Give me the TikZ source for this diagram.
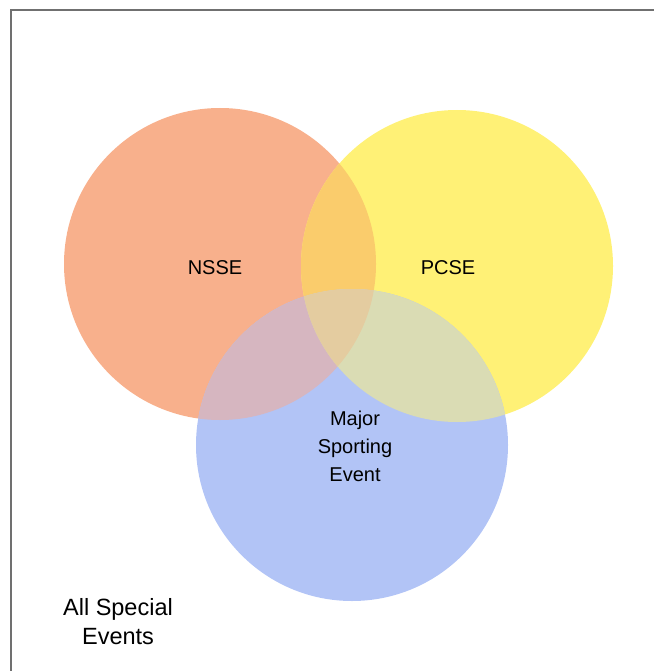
\documentclass[tikz,border=0pt]{standalone}
\usepackage{fontspec}
\setmainfont{Liberation Sans}
\usepackage{tikz}
\definecolor{framegray}{RGB}{112,112,112}
\definecolor{nsse}{RGB}{248,176,140}
\definecolor{pcse}{RGB}{255,241,118}
\definecolor{mse}{RGB}{178,196,246}
\definecolor{np}{RGB}{250,204,108}
\definecolor{nm}{RGB}{214,182,192}
\definecolor{pm}{RGB}{218,220,180}
\definecolor{npm}{RGB}{228,204,160}
\tikzset{lbl/.style={align=center, font=\fontsize{20}{28}\selectfont, inner sep=0pt},
         big/.style={lbl, font=\fontsize{23.5}{29}\selectfont}}

\begin{document}
\begin{tikzpicture}[x=1pt,y=-1pt]
\useasboundingbox (0,0) rectangle (654,671);
\coordinate (fb) at (10.5,671);
\coordinate (ft) at (10.5,10.5);
\coordinate (fr) at (654,10.5);
\draw[line width=2pt, framegray](fb)--(ft)--(fr);

\foreach \cx/\cy/\col in {220/264/nsse,457/266/pcse,352/445/mse}
{
    \coordinate (\col) at (\cx,\cy);
    \fill[\col](\col) circle(156);
}
% overlaps
\foreach \a/\b/\col in {nsse/pcse/np,nsse/mse/nm,pcse/mse/pm}
{
    \begin{scope}
    \clip(\a) circle(156);
    \fill[\col](\b) circle(156);
    \end{scope}
}
\begin{scope}
\clip(nsse) circle(156);
\clip(pcse) circle(156);
\fill[npm](mse) circle(156);
\end{scope}

\node[lbl] (nssel) at (215,268) {NSSE};
\node[lbl] (pcsel) at (448,268) {PCSE};
\node[lbl] (msel) at (355,446) {Major\\Sporting\\Event};
\node[big] (allev) at (118,622) {All Special\\Events};
\end{tikzpicture}
\end{document}
